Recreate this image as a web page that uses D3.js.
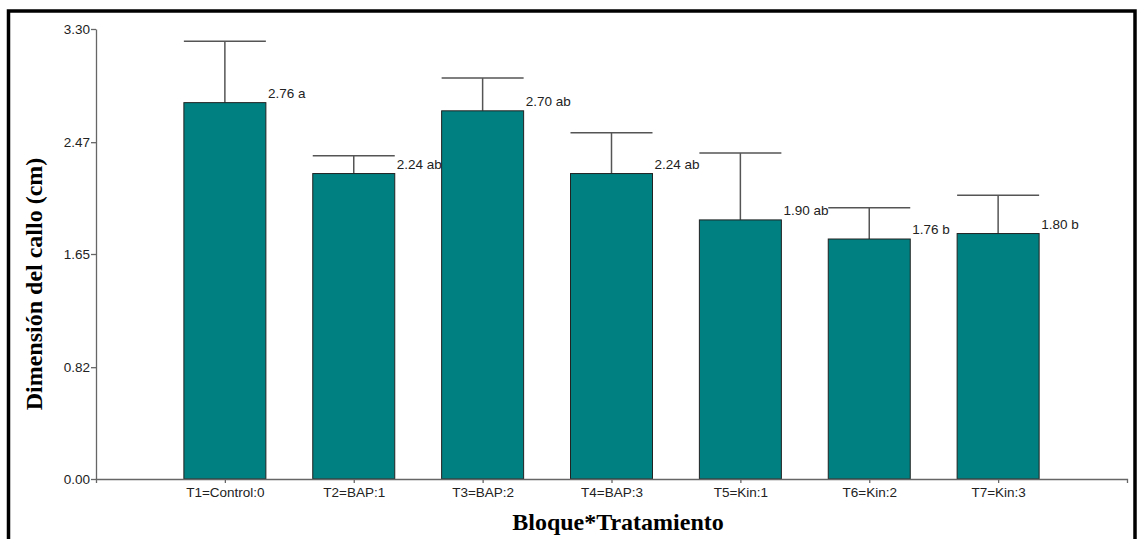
<!DOCTYPE html>
<html>
<head>
<meta charset="utf-8">
<script src="https://cdn.jsdelivr.net/npm/d3@7"></script>
<style>
  body { margin: 0; background: #fff; }
  svg { display: block; }
</style>
</head>
<body>
<div class="chart"></div>
<script>
// data
const categories = ['T1=Control:0', 'T2=BAP:1', 'T3=BAP:2', 'T4=BAP:3', 'T5=Kin:1', 'T6=Kin:2', 'T7=Kin:3'];
const means = [2.76, 2.24, 2.70, 2.24, 1.90, 1.76, 1.80];
const errors = [0.45, 0.13, 0.24, 0.30, 0.49, 0.23, 0.28];
const letters = ['a', 'ab', 'ab', 'ab', 'ab', 'b', 'b'];
const yTicks = [0.00, 0.82, 1.65, 2.47, 3.30];

const width = 1137, height = 539;
const barW = 82;

const svg = d3.select('.chart')
              .append('svg')
              .attr('width', width)
              .attr('height', height);

// frame
svg.append('rect')
  .attr('x', 8.5).attr('y', 11)
  .attr('width', 1126.5).attr('height', 560)
  .attr('fill', 'none')
  .attr('stroke', '#000')
  .attr('stroke-width', 3.5);

const x = d3.scaleLinear().domain([0, categories.length + 1]).range([96, 1127]);
const y = d3.scaleLinear().domain([0, 3.30]).range([479, 29]);

const data = categories.map((c, i) => ({ cat: c, i: i + 1, mean: means[i], err: errors[i], letter: letters[i] }));

// error bars (drawn behind bars)
const eb = svg.append('g').attr('stroke', '#555').attr('stroke-width', 1.5);
eb.selectAll('line.v')
  .data(data)
  .join('line')
    .attr('class', 'v')
    .attr('x1', d => x(d.i)).attr('x2', d => x(d.i))
    .attr('y1', d => y(d.mean)).attr('y2', d => y(d.mean + d.err));
eb.selectAll('line.cap')
  .data(data)
  .join('line')
    .attr('class', 'cap')
    .attr('x1', d => x(d.i) - barW / 2).attr('x2', d => x(d.i) + barW / 2)
    .attr('y1', d => y(d.mean + d.err)).attr('y2', d => y(d.mean + d.err));

// bars
svg.append('g')
  .selectAll('rect')
  .data(data)
  .join('rect')
    .attr('x', d => x(d.i) - barW / 2)
    .attr('y', d => y(d.mean))
    .attr('width', barW)
    .attr('height', d => y(0) - y(d.mean))
    .attr('fill', '#008080')
    .attr('stroke', '#222')
    .attr('stroke-width', 1);

// value + letter labels
svg.append('g')
  .selectAll('text')
  .data(data)
  .join('text')
    .attr('x', d => x(d.i) + barW / 2 + 2)
    .attr('y', d => y(d.mean) - 5)
    .attr('font-family', 'Liberation Sans, Arial, sans-serif')
    .attr('font-size', 13.5)
    .attr('fill', '#222')
    .text(d => d.mean.toFixed(2) + ' ' + d.letter);

// axes
const yAxis = svg.append('g')
  .attr('transform', 'translate(96,0)')
  .call(d3.axisLeft(y).tickValues(yTicks).tickFormat(d => d.toFixed(2)).tickSize(5).tickSizeOuter(0));

const xAxis = svg.append('g')
  .attr('transform', 'translate(0,479)')
  .call(d3.axisBottom(x).tickValues(d3.range(1, categories.length + 1))
    .tickFormat(d => categories[d - 1]).tickSize(4).tickSizeOuter(4));

[yAxis, xAxis].forEach(g => {
  g.selectAll('path, line').attr('stroke', '#666').attr('stroke-width', 1.3);
  g.selectAll('text')
    .attr('font-family', 'Liberation Sans, Arial, sans-serif')
    .attr('font-size', 13.5)
    .attr('fill', '#222');
});
yAxis.selectAll('text').attr('x', -6);
xAxis.selectAll('text').attr('y', 8);

// axis titles
svg.append('text')
  .attr('transform', 'translate(42,284) rotate(-90)')
  .attr('text-anchor', 'middle')
  .attr('font-family', 'Liberation Serif, Times New Roman, serif')
  .attr('font-weight', 'bold')
  .attr('font-size', 24)
  .attr('fill', '#000')
  .text('Dimensión del callo (cm)');

svg.append('text')
  .attr('x', 618)
  .attr('y', 530)
  .attr('text-anchor', 'middle')
  .attr('font-family', 'Liberation Serif, Times New Roman, serif')
  .attr('font-weight', 'bold')
  .attr('font-size', 24)
  .attr('fill', '#000')
  .text('Bloque*Tratamiento');
</script>
</body>
</html>
